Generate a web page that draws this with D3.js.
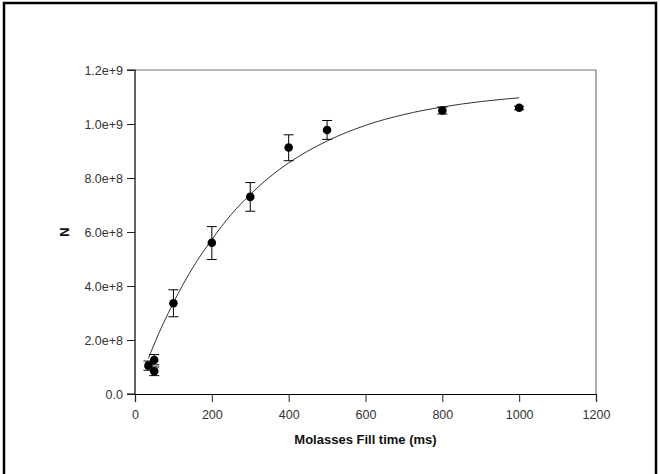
<!DOCTYPE html>
<html><head><meta charset="utf-8">
<script src="https://cdn.jsdelivr.net/npm/d3@7"></script>
<style>body{margin:0;background:#fff}svg{display:block}</style>
</head><body>
<script>
// Data
const fillTime = [35, 50, 50, 100, 200, 300, 400, 500, 800, 1000];
const nValue   = [1.05e8, 1.26e8, 0.84e8, 3.36e8, 5.6e8, 7.3e8, 9.13e8, 9.78e8, 1.05e9, 1.06e9];
const errLow   = [0.88e8, 1.08e8, 0.68e8, 2.86e8, 4.98e8, 6.77e8, 8.64e8, 9.43e8, 1.037e9, 1.053e9];
const errHigh  = [1.22e8, 1.46e8, 1.0e8, 3.86e8, 6.2e8, 7.83e8, 9.6e8, 1.013e9, 1.063e9, 1.066e9];
const fitX = [35, 50, 100, 150, 200, 250, 300, 350, 400, 450, 500, 600, 700, 800, 900, 1000];
const fitY = [1.32e8, 1.85e8, 3.38e8, 4.67e8, 5.72e8, 6.64e8, 7.39e8, 8.03e8, 8.56e8, 9.0e8, 9.37e8, 9.95e8, 1.035e9, 1.063e9, 1.083e9, 1.097e9];
const xTicks = [0, 200, 400, 600, 800, 1000, 1200];
const yTicks = [0, 2e8, 4e8, 6e8, 8e8, 1e9, 1.2e9];
const yTickLabels = ["0.0", "2.0e+8", "4.0e+8", "6.0e+8", "8.0e+8", "1.0e+9", "1.2e+9"];

const W = 660, H = 474;
const svg = d3.select("body").append("svg").attr("width", W).attr("height", H);

// outer frame
svg.append("rect").attr("x", 4).attr("y", 3).attr("width", 652).attr("height", 490)
  .attr("fill", "#fff").attr("stroke", "#000").attr("stroke-width", 2.5);

const x = d3.scaleLinear().domain([0, 1200]).range([135, 596]);
const y = d3.scaleLinear().domain([0, 1.2e9]).range([394, 70]);

// plot frame (top & right, gray)
svg.append("path").attr("d", `M${x(0)},${y(1.2e9)}H${x(1200)}V${y(0)}`)
  .attr("fill", "none").attr("stroke", "#777").attr("stroke-width", 1.2);

const fontFam = "'Liberation Sans', Arial, sans-serif";

const xAxis = svg.append("g").attr("transform", `translate(0,${y(0)})`)
  .call(d3.axisBottom(x).tickValues(xTicks).tickSize(8).tickPadding(8).tickFormat(d3.format("d")));
const yAxis = svg.append("g").attr("transform", `translate(${x(0)},0)`)
  .call(d3.axisLeft(y).tickValues(yTicks).tickSize(8).tickPadding(4).tickFormat((d, i) => yTickLabels[i]));
[xAxis, yAxis].forEach(g => {
  g.select(".domain").attr("stroke", "#000").attr("stroke-width", 1.2);
  g.selectAll(".tick line").attr("stroke", "#222");
  g.selectAll("text").attr("font-family", fontFam).attr("font-size", 12.5).attr("fill", "#333");
});
yAxis.select(".domain").attr("d", `M-8,${y(1.2e9)}H0V${y(0)}H-8`);

// fitted curve
svg.append("path")
  .datum(fitX.map((d, i) => [d, fitY[i]]))
  .attr("d", d3.line().x(d => x(d[0])).y(d => y(d[1])).curve(d3.curveMonotoneX))
  .attr("fill", "none").attr("stroke", "#333").attr("stroke-width", 1);

// error bars
const pts = fillTime.map((d, i) => ({x: d, y: nValue[i], lo: errLow[i], hi: errHigh[i]}));
const eb = svg.append("g").attr("stroke", "#000").attr("stroke-width", 1);
pts.forEach(p => {
  eb.append("line").attr("x1", x(p.x)).attr("x2", x(p.x)).attr("y1", y(p.lo)).attr("y2", y(p.hi));
  [p.lo, p.hi].forEach(v => eb.append("line")
    .attr("x1", x(p.x) - 5).attr("x2", x(p.x) + 5).attr("y1", y(v)).attr("y2", y(v)));
});

// markers
svg.append("g").selectAll("circle").data(pts).join("circle")
  .attr("cx", d => x(d.x)).attr("cy", d => y(d.y)).attr("r", 4.3).attr("fill", "#000");

// axis titles
svg.append("text").attr("x", (x(0) + x(1200)) / 2).attr("y", 444)
  .attr("text-anchor", "middle").attr("font-family", fontFam).attr("font-size", 13)
  .attr("font-weight", "bold").attr("fill", "#111").text("Molasses Fill time (ms)");
svg.append("text").attr("transform", `translate(69,${y(6e8)}) rotate(-90)`)
  .attr("text-anchor", "middle").attr("font-family", fontFam).attr("font-size", 13)
  .attr("font-weight", "bold").attr("fill", "#111").text("N");
</script>
</body></html>
